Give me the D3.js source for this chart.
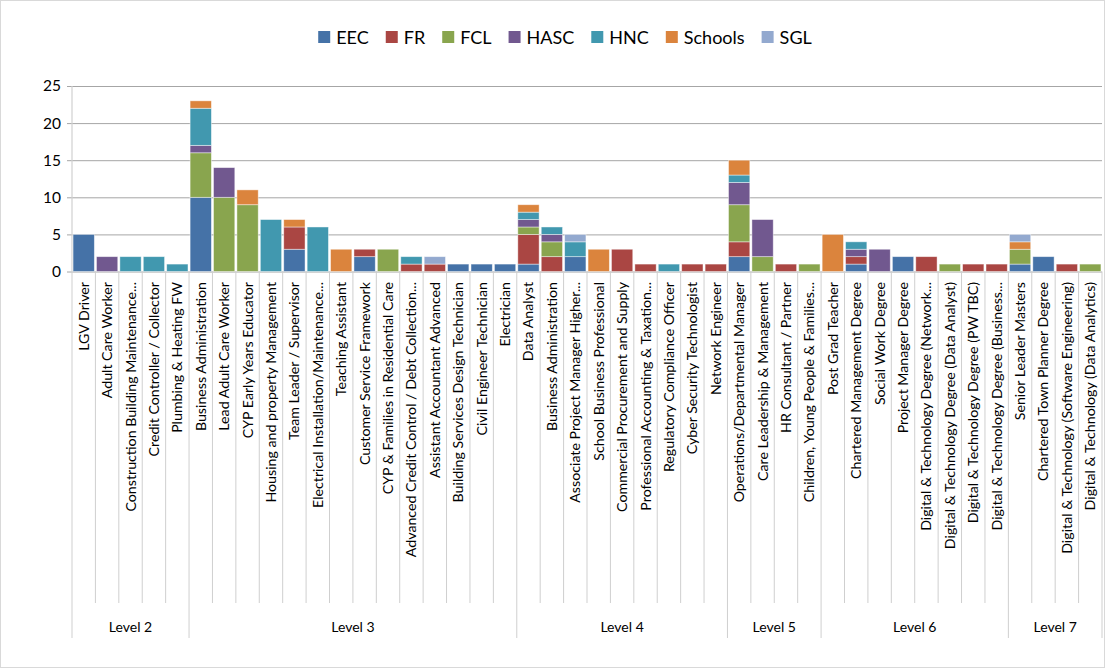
<!DOCTYPE html>
<html>
<head>
<meta charset="utf-8">
<script src="https://cdn.jsdelivr.net/npm/d3@7/dist/d3.min.js"></script>
<style>
  html, body { margin: 0; padding: 0; background: #fff; }
  svg { display: block; font-family: Lato, "Open Sans", sans-serif; }
</style>
</head>
<body>
<svg id="chart" width="1105" height="670"></svg>
<script>
const categories = [
  "LGV Driver", "Adult Care Worker", "Construction Building Maintenance...", "Credit Controller / Collector", "Plumbing & Heating FW",
  "Business Administration", "Lead Adult Care Worker", "CYP Early Years Educator", "Housing and property Management", "Team Leader / Supervisor",
  "Electrical Installation/Maintenance...", "Teaching Assistant", "Customer Service Framework", "CYP & Families in Residential Care",
  "Advanced Credit Control / Debt Collection...", "Assistant Accountant Advanced", "Building Services Design Technician", "Civil Engineer Technician", "Electrician",
  "Data Analyst", "Business Administration", "Associate Project Manager Higher...", "School Business Professional", "Commercial Procurement and Supply",
  "Professional Accounting & Taxation...", "Regulatory Compliance Officer", "Cyber Security Technologist", "Network Engineer",
  "Operations/Departmental Manager", "Care Leadership & Management", "HR Consultant / Partner", "Children, Young People & Families...",
  "Post Grad Teacher", "Chartered Management Degree", "Social Work Degree", "Project Manager Degree", "Digital & Technology Degree (Network...",
  "Digital & Technology Degree (Data Analyst)", "Digital & Technology Degree (PW TBC)", "Digital & Technology Degree (Business...",
  "Senior Leader Masters", "Chartered Town Planner Degree", "Digital & Technology (Software Engineering)", "Digital & Technology  (Data Analytics)"
];
const levels = ["Level 2", "Level 3", "Level 4", "Level 5", "Level 6", "Level 7"];
const levelSizes = [5, 14, 9, 4, 8, 4];

const seriesNames = ["EEC", "FR", "FCL", "HASC", "HNC", "Schools", "SGL"];
const EEC     = [5,0,0,0,0, 10,0,0,0,3,0,0,2,0,0,0,1,1,1, 1,0,2,0,0,0,0,0,0, 2,0,0,0, 0,1,0,2,0,0,0,0, 1,2,0,0];
const FR      = [0,0,0,0,0, 0,0,0,0,3,0,0,1,0,1,1,0,0,0, 4,2,0,0,3,1,0,1,1, 2,0,1,0, 0,1,0,0,2,0,1,1, 0,0,1,0];
const FCL     = [0,0,0,0,0, 6,10,9,0,0,0,0,0,3,0,0,0,0,0, 1,2,0,0,0,0,0,0,0, 5,2,0,1, 0,0,0,0,0,1,0,0, 2,0,0,1];
const HASC    = [0,2,0,0,0, 1,4,0,0,0,0,0,0,0,0,0,0,0,0, 1,1,0,0,0,0,0,0,0, 3,5,0,0, 0,1,3,0,0,0,0,0, 0,0,0,0];
const HNC     = [0,0,2,2,1, 5,0,0,7,0,6,0,0,0,1,0,0,0,0, 1,1,2,0,0,0,1,0,0, 1,0,0,0, 0,1,0,0,0,0,0,0, 0,0,0,0];
const Schools = [0,0,0,0,0, 1,0,2,0,1,0,3,0,0,0,0,0,0,0, 1,0,0,3,0,0,0,0,0, 2,0,0,0, 5,0,0,0,0,0,0,0, 1,0,0,0];
const SGL     = [0,0,0,0,0, 0,0,0,0,0,0,0,0,0,0,1,0,0,0, 0,0,1,0,0,0,0,0,0, 0,0,0,0, 0,0,0,0,0,0,0,0, 1,0,0,0];
const yTicks = [0, 5, 10, 15, 20, 25];
const colors = ["#4572A7", "#AA4643", "#89A54E", "#71588F", "#4198AF", "#DB843D", "#93A9CF"];

const seriesValues = [EEC, FR, FCL, HASC, HNC, Schools, SGL];
const table = categories.map((c, i) => {
  const row = { idx: i, name: c };
  seriesNames.forEach((s, k) => row[s] = seriesValues[k][i]);
  return row;
});

const svg = d3.select("#chart");
const W = 1105, H = 670;
const plotL = 72, plotR = 1102, plotT = 86, plotB = 271.5;

// outer border
svg.append("rect").attr("x", 0.5).attr("y", 0.5).attr("width", W - 1).attr("height", H - 3)
  .attr("fill", "none").attr("stroke", "#d9d9d9");

const x = d3.scaleBand().domain(d3.range(categories.length)).range([plotL, plotR]).paddingInner(0.09).paddingOuter(0.045);
const xb = d3.scaleBand().domain(d3.range(categories.length)).range([plotL, plotR]).padding(0);
const y = d3.scaleLinear().domain([0, 25]).range([plotB, plotT]);

// gridlines
const yAxis = d3.axisLeft(y).tickValues(yTicks).tickSize(-(plotR - plotL)).tickPadding(11);
const gy = svg.append("g").attr("transform", `translate(${plotL},0)`).call(yAxis);
gy.select(".domain").remove();
gy.selectAll(".tick line").attr("stroke", "#a6a6a6").attr("x1", -5);
gy.selectAll(".tick text").attr("font-size", 15.5).attr("fill", "#000").attr("font-family", "Lato, sans-serif");

// y axis line
svg.append("line").attr("x1", plotL).attr("x2", plotL).attr("y1", plotT).attr("y2", plotB)
  .attr("stroke", "#d0d0d0").attr("stroke-width", 1.2);

// stacked bars
const stack = d3.stack().keys(seriesNames)(table);
const gBars = svg.append("g");
stack.forEach((layer, k) => {
  gBars.append("g").attr("fill", colors[k])
    .selectAll("rect").data(layer.filter(d => d[1] > d[0])).join("rect")
    .attr("x", d => x(d.data.idx))
    .attr("width", x.bandwidth())
    .attr("y", d => y(d[1]))
    .attr("height", d => y(d[0]) - y(d[1]))
    .attr("stroke", "rgba(255,255,255,0.55)")
    .attr("stroke-width", 0.8);
});

// category separators
const sepG = svg.append("g").attr("stroke", "#cfcfcf").attr("stroke-width", 1);
const levelBounds = [0];
levelSizes.reduce((acc, n) => { acc += n; levelBounds.push(acc); return acc; }, 0);
for (let i = 0; i <= categories.length; i++) {
  const xx = i < categories.length ? xb(i) : plotR;
  const isLevel = levelBounds.includes(i);
  sepG.append("line").attr("x1", xx).attr("x2", xx).attr("y1", plotB).attr("y2", isLevel ? 638 : 603);
}

// category labels
const gLab = svg.append("g");
gLab.selectAll("text").data(table).join("text")
  .attr("transform", d => `translate(${xb(d.idx) + xb.bandwidth() / 2 + 5},282) rotate(-90)`)
  .attr("text-anchor", "end")
  .attr("font-size", 14.2)
  .attr("fill", "#000")
  .text(d => d.name);

// level labels
levels.forEach((lv, k) => {
  const x0 = xb(levelBounds[k]);
  const x1 = levelBounds[k + 1] < categories.length ? xb(levelBounds[k + 1]) : plotR;
  svg.append("text").attr("x", (x0 + x1) / 2).attr("y", 632)
    .attr("text-anchor", "middle").attr("font-size", 14).attr("fill", "#000").text(lv);
});

// legend
const lg = svg.append("g");
let cx = 0;
const gap = 17;
seriesNames.forEach((s, k) => {
  const g = lg.append("g").attr("transform", `translate(${cx},0)`);
  g.append("rect").attr("x", 0).attr("y", -6).attr("width", 12).attr("height", 12).attr("fill", colors[k]);
  const t = g.append("text").attr("x", 18).attr("y", 6.5).attr("font-size", 18).attr("fill", "#000").text(s);
  cx += 18 + t.node().getComputedTextLength() + gap;
});
const total = cx - gap;
lg.attr("transform", `translate(${(318 + 812) / 2 - total / 2},37)`);
</script>
</body>
</html>
